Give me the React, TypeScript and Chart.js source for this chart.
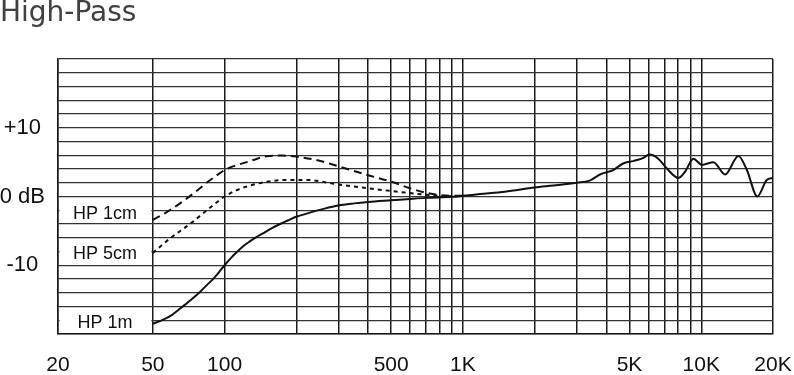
import React, { useEffect, useRef } from "react";
import { Chart, registerables } from "chart.js";

Chart.register(...registerables);

// ---- data ----
const titleText = "High-Pass";

const xTickValues = [20, 50, 100, 200, 300, 400, 500, 600, 700, 800, 900, 1000, 2000, 3000, 4000, 5000, 6000, 7000, 8000, 9000, 10000, 20000];
const xTickLabels: Record<number, string> = { 20: "20", 50: "50", 100: "100", 500: "500", 1000: "1K", 5000: "5K", 10000: "10K", 20000: "20K" };
const yTickLabels: Record<number, string> = { 10: "+10", 0: "0 dB", "-10": "-10" } as any;

const hp1mFreq = [50, 55, 60, 67, 73, 79, 85, 90, 95, 100, 106, 112, 120, 128, 136, 145, 158, 171, 185, 200, 228, 260, 300, 350, 400, 500, 600, 700, 900, 1000, 1180, 1500, 2000, 2400, 3000, 3400, 3760, 4270, 4700, 5180, 5620, 6090, 6600, 7160, 8020, 8550, 9270, 10060, 11250, 12590, 14320, 15540, 17200, 18820, 20000];
const hp1mDb = [-18.5, -17.95, -17.25, -15.95, -14.9, -13.85, -12.75, -11.9, -10.95, -10, -9.0, -8.15, -7.2, -6.5, -5.9, -5.35, -4.6, -4.0, -3.45, -2.95, -2.35, -1.8, -1.3, -1.0, -0.8, -0.55, -0.35, -0.2, -0.05, 0.1, 0.35, 0.7, 1.3, 1.6, 2.0, 2.3, 3.2, 3.85, 4.8, 5.15, 5.5, 6.1, 5.5, 4.1, 2.7, 3.6, 5.5, 4.6, 5.0, 3.2, 5.9, 3.85, 0, 2.4, 2.7];

const hp1cmFreq = [50, 57, 65, 75, 84, 92, 100, 112, 124, 137, 150, 176, 200, 250, 300, 400, 500, 600, 700, 800, 900, 1000];
const hp1cmDb = [-3.4, -2.3, -1.0, 0.6, 2.0, 3.0, 3.85, 4.55, 5.0, 5.5, 5.85, 5.95, 5.8, 5.2, 4.4, 3.1, 2.15, 1.2, 0.55, 0.2, 0.1, 0.1];

const hp5cmFreq = [50, 59, 71.5, 85, 100, 112, 124, 150, 182, 221, 300, 400, 500, 600, 700, 800, 900];
const hp5cmDb = [-8.2, -6.1, -4.0, -1.9, 0.0, 0.9, 1.45, 2.15, 2.4, 2.4, 1.75, 1.2, 0.8, 0.5, 0.25, 0.1, 0.05];

const curveLabels = ["HP 1cm", "HP 5cm", "HP 1m"];
const curveLabelDb = [-2.35, -8.2, -18.2];
const curveLabelFreq = 31.5;
const labelBoxEndFreq = 50;

const toPoints = (f: number[], d: number[]) => f.map((v, i) => ({ x: v, y: d[i] }));

const curveLabelPlugin = {
  id: "curveLabels",
  beforeDatasetsDraw(chart: any) {
    const { ctx, chartArea, scales } = chart;
    const x = scales.x;
    const y = scales.y;
    const xEnd = x.getPixelForValue(labelBoxEndFreq);
    ctx.save();
    curveLabels.forEach((t, i) => {
      const cx = x.getPixelForValue(curveLabelFreq);
      const cy = y.getPixelForValue(curveLabelDb[i]);
      ctx.fillStyle = "#ffffff";
      ctx.fillRect(chartArea.left + 1.5, cy - 10, xEnd - chartArea.left - 3, 20);
      ctx.fillStyle = "#111111";
      ctx.font = "18px 'Liberation Sans', Arial, sans-serif";
      ctx.textAlign = "center";
      ctx.textBaseline = "middle";
      ctx.fillText(t, cx, cy + 1);
    });
    ctx.restore();
  },
};

export default function App() {
  const ref = useRef<HTMLCanvasElement>(null);

  useEffect(() => {
    document.body.style.margin = "0";
    const canvas = ref.current;
    if (!canvas) return;
    const chart = new Chart(canvas, {
      type: "line",
      data: {
        datasets: [
          {
            label: "HP 1m",
            data: toPoints(hp1mFreq, hp1mDb),
            borderColor: "#111111",
            borderWidth: 2,
            pointRadius: 0,
            cubicInterpolationMode: "monotone",
            fill: false,
          },
          {
            label: "HP 1cm",
            data: toPoints(hp1cmFreq, hp1cmDb),
            borderColor: "#111111",
            borderWidth: 2,
            borderDash: [8, 5],
            pointRadius: 0,
            cubicInterpolationMode: "monotone",
            fill: false,
          },
          {
            label: "HP 5cm",
            data: toPoints(hp5cmFreq, hp5cmDb),
            borderColor: "#111111",
            borderWidth: 2,
            borderDash: [4, 4],
            pointRadius: 0,
            cubicInterpolationMode: "monotone",
            fill: false,
          },
        ],
      },
      options: {
        animation: false,
        responsive: false,
        devicePixelRatio: 1,
        layout: { padding: { left: 0, right: 21, top: 0, bottom: 0 } },
        plugins: {
          legend: { display: false },
          tooltip: { enabled: false },
          title: {
            display: true,
            text: titleText,
            align: "start",
            color: "#404040",
            font: { family: "'DejaVu Sans', sans-serif", size: 28, weight: "normal", lineHeight: 1 },
            padding: { top: 0, bottom: 31 },
          },
        },
        scales: {
          x: {
            type: "logarithmic",
            min: 20,
            max: 20000,
            afterBuildTicks: (scale: any) => {
              scale.ticks = xTickValues.map((v) => ({ value: v }));
            },
            afterFit: (scale: any) => {
              scale.height = 41;
              scale.paddingLeft = 0;
              scale.paddingRight = 0;
            },
            ticks: {
              autoSkip: false,
              maxRotation: 0,
              minRotation: 0,
              padding: 19,
              color: "#111111",
              font: { family: "'Liberation Sans', Arial, sans-serif", size: 21 },
              callback: (v: any) => xTickLabels[Number(v)] ?? "",
            },
            grid: { color: "#1a1a1a", lineWidth: 1.5, drawTicks: false },
            border: { display: true, color: "#1a1a1a", width: 1.5 },
          },
          y: {
            type: "linear",
            min: -20,
            max: 20,
            afterFit: (scale: any) => {
              scale.width = 58;
              scale.paddingTop = 0;
              scale.paddingBottom = 0;
            },
            ticks: {
              stepSize: 2,
              autoSkip: false,
              padding: 13,
              crossAlign: "center",
              color: "#111111",
              font: { family: "'Liberation Sans', Arial, sans-serif", size: 22 },
              callback: (v: any) => yTickLabels[Number(v)] ?? "",
            },
            grid: { color: "#333333", lineWidth: 1.2, drawTicks: false },
            border: { display: true, color: "#1a1a1a", width: 1.5 },
          },
        },
      },
      plugins: [curveLabelPlugin],
    } as any);
    return () => chart.destroy();
  }, []);

  return (
    <div style={{ position: "absolute", left: 0, top: 0, width: 794, height: 375, background: "#fff" }}>
      <canvas ref={ref} width={794} height={375} />
    </div>
  );
}
